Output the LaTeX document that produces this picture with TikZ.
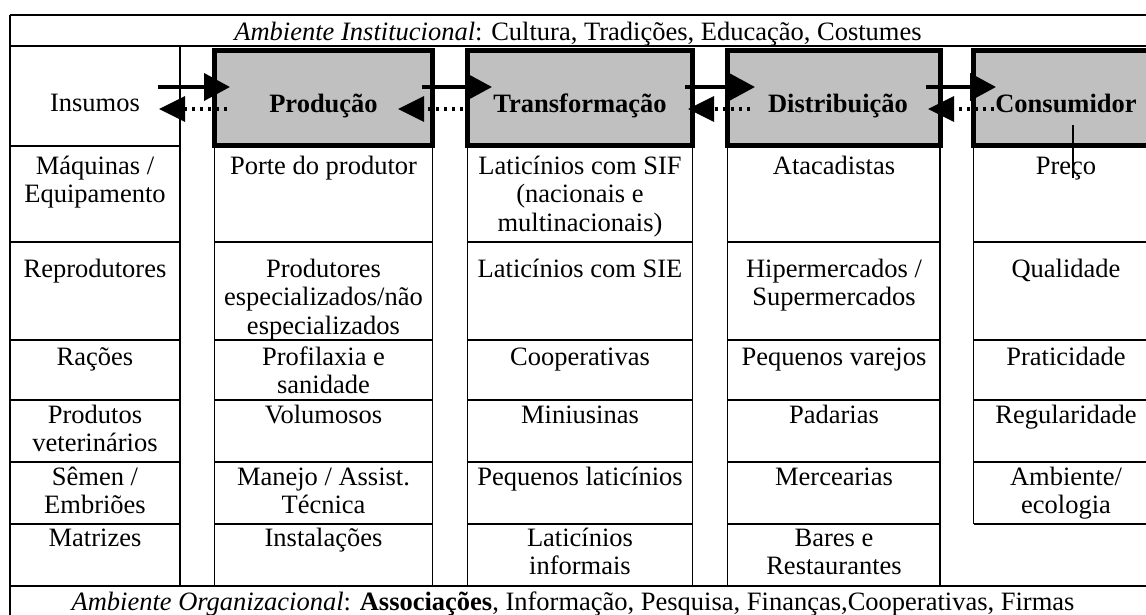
\documentclass[tikz,border=0pt]{standalone}
\usepackage{fontspec}
\setmainfont{Liberation Serif}
\usetikzlibrary{arrows.meta}
\definecolor{boxgray}{HTML}{C0C0C0}
\newcommand\mycell[1]{\parbox[t]{222pt}{\centering #1}}
\begin{document}
\begin{tikzpicture}[x=1pt,y=-1pt,
  thinline/.style={line width=1.3pt},
  hbox/.style={draw, line width=5pt, fill=boxgray, inner sep=0pt},
  flow/.style={line width=4pt, -{Triangle[length=26pt,width=27pt]}},
  back/.style={line width=3.5pt, dash pattern=on 3pt off 5pt, -{Triangle[length=26pt,width=25pt]}},
  lbl/.style={inner sep=0pt, anchor=base, font=\fontsize{26.5}{28.7}\selectfont},
  blbl/.style={lbl, font=\fontsize{26.5}{28.7}\selectfont\bfseries},
]
\useasboundingbox (0,0) rectangle (1146,614);
\clip (0,0) rectangle (1146,614);
% outer frame
\draw[thinline] (10,15) -- (1180,15);
\draw[thinline] (10,15) -- (10,660);
\draw[thinline] (10,46) -- (1180,46);
\draw[thinline] (10,586) -- (1180,586);
% column verticals
\draw[thinline] (180,46) -- (180,586);
\foreach \x in {214.5,432.5,467.5,692.5,727.5,940}{
  \draw[thinline] (\x,146) -- (\x,586);
}
\draw[thinline] (973.5,146) -- (973.5,524);
% row lines per column
\draw[thinline] (10,146) -- (180,146);
\foreach \y in {242,340,400,462,524}{
  \draw[thinline] (10,\y) -- (180,\y);
  \draw[thinline] (214.5,\y) -- (432.5,\y);
  \draw[thinline] (467.5,\y) -- (692.5,\y);
  \draw[thinline] (727.5,\y) -- (940,\y);
  \draw[thinline] (973.5,\y) -- (1180,\y);
}
% header boxes
\node[hbox, minimum width=218pt, minimum height=95pt] (prod) at (323.5,98) {};
\node[hbox, minimum width=225pt, minimum height=95pt] (trans) at (580,98) {};
\node[hbox, minimum width=213pt, minimum height=95pt] (dist) at (834,98) {};
\node[hbox, minimum width=200pt, minimum height=95pt] (cons) at (1073.5,98) {};
\draw[thinline] (1073,125) -- (1073,178);
% header labels
\node[lbl] (ins) at (95,111) {Insumos};
\node[blbl] (prodl) at (323.5,112) {Produção};
\node[blbl] (transl) at (580,112) {Transformação};
\node[blbl] (distl) at (838,112) {Distribuição};
\node[blbl] (consl) at (1066,112) {Consumidor};
% arrows
\coordinate (s1a) at (158,87);  \coordinate (s1b) at (230,87);
\coordinate (d1a) at (227,109); \coordinate (d1b) at (159,109);
\coordinate (s2a) at (422,87);  \coordinate (s2b) at (492,87);
\coordinate (d2a) at (463,109); \coordinate (d2b) at (398,109);
\coordinate (s3a) at (685,87);  \coordinate (s3b) at (755,87);
\coordinate (d3a) at (750,109); \coordinate (d3b) at (688,109);
\coordinate (s4a) at (926,87);  \coordinate (s4b) at (996,87);
\coordinate (d4a) at (994,109); \coordinate (d4b) at (928,109);
\draw[flow] (s1a) -- (s1b);
\draw[back] (d1a) -- (d1b);
\draw[flow] (s2a) -- (s2b);
\draw[back] (d2a) -- (d2b);
\draw[flow] (s3a) -- (s3b);
\draw[back] (d3a) -- (d3b);
\draw[flow] (s4a) -- (s4b);
\draw[back] (d4a) -- (d4b);
% environment texts
\node[lbl] (inst) at (578,40) {\textit{Ambiente Institucional}: Cultura, Tradições, Educação, Costumes};
\node[lbl] (org) at (573,610) {\textit{Ambiente Organizacional}: \textbf{Associações}, Informação, Pesquisa, Finanças,Cooperativas, Firmas};
% row 1
\node[lbl] (c11) at (95,174) {\mycell{Máquinas /\\Equipamento}};
\node[lbl] (c12) at (323.5,174) {\mycell{Porte do produtor}};
\node[lbl] (c13) at (580,174) {\mycell{Laticínios com SIF\\(nacionais e\\multinacionais)}};
\node[lbl] (c14) at (834,174) {\mycell{Atacadistas}};
\node[lbl] (c15) at (1066,174) {\mycell{Preço}};
% row 2
\node[lbl] (c21) at (95,277) {\mycell{Reprodutores}};
\node[lbl] (c22) at (323.5,277) {\mycell{Produtores\\especializados/não\\especializados}};
\node[lbl] (c23) at (580,277) {\mycell{Laticínios com SIE}};
\node[lbl] (c24) at (834,277) {\mycell{Hipermercados /\\Supermercados}};
\node[lbl] (c25) at (1066,277) {\mycell{Qualidade}};
% row 3
\node[lbl] (c31) at (95,365) {\mycell{Rações}};
\node[lbl] (c32) at (323.5,365) {\mycell{Profilaxia e\\sanidade}};
\node[lbl] (c33) at (580,365) {\mycell{Cooperativas}};
\node[lbl] (c34) at (834,365) {\mycell{Pequenos varejos}};
\node[lbl] (c35) at (1066,365) {\mycell{Praticidade}};
% row 4
\node[lbl] (c41) at (95,423) {\mycell{Produtos\\veterinários}};
\node[lbl] (c42) at (323.5,423) {\mycell{Volumosos}};
\node[lbl] (c43) at (580,423) {\mycell{Miniusinas}};
\node[lbl] (c44) at (834,423) {\mycell{Padarias}};
\node[lbl] (c45) at (1066,423) {\mycell{Regularidade}};
% row 5
\node[lbl] (c51) at (95,485) {\mycell{Sêmen /\\Embriões}};
\node[lbl] (c52) at (323.5,485) {\mycell{Manejo / Assist.\\Técnica}};
\node[lbl] (c53) at (580,485) {\mycell{Pequenos laticínios}};
\node[lbl] (c54) at (834,485) {\mycell{Mercearias}};
\node[lbl] (c55) at (1066,485) {\mycell{Ambiente/\\ecologia}};
% row 6
\node[lbl] (c61) at (95,546) {\mycell{Matrizes}};
\node[lbl] (c62) at (323.5,546) {\mycell{Instalações}};
\node[lbl] (c63) at (580,546) {\mycell{Laticínios\\informais}};
\node[lbl] (c64) at (834,546) {\mycell{Bares e\\Restaurantes}};
\end{tikzpicture}
\end{document}
